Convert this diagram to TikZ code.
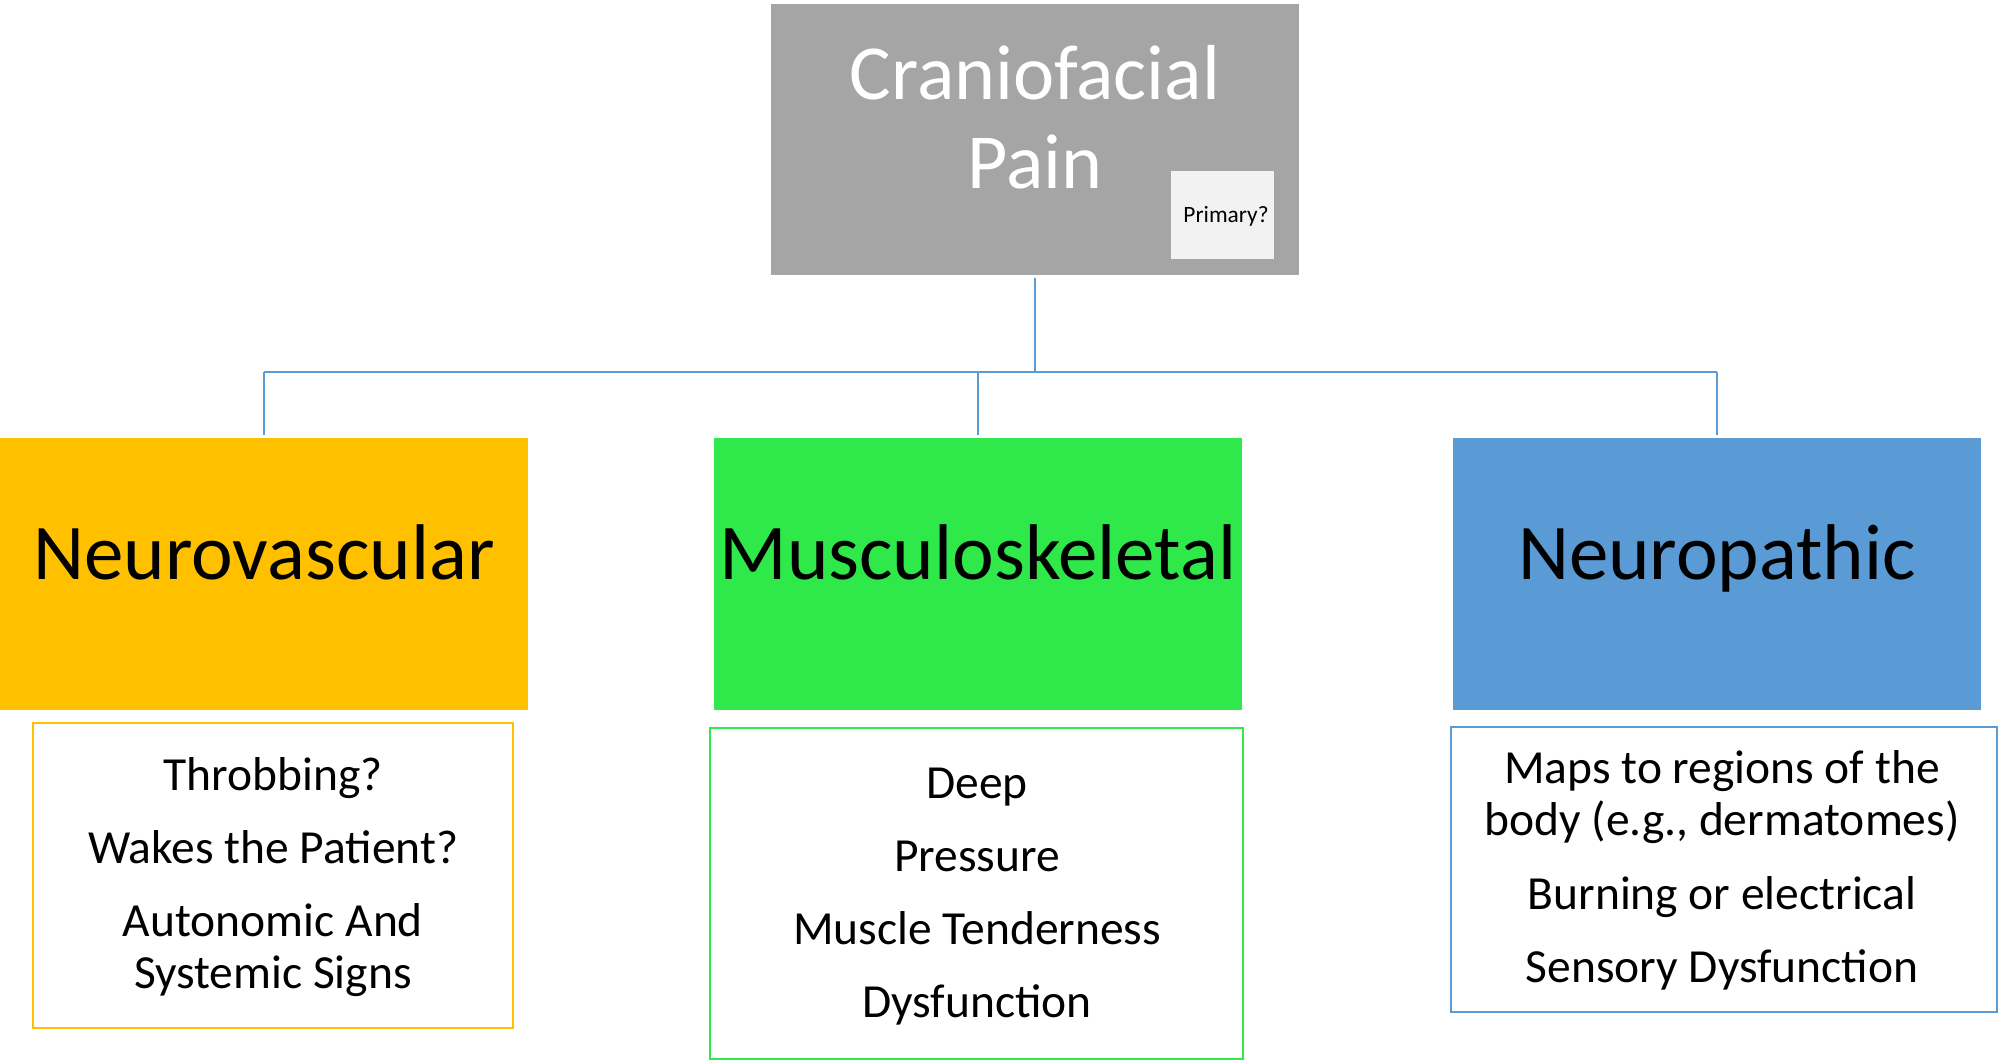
\documentclass[tikz,border=0pt]{standalone}
\usepackage{fontspec}
\setmainfont{Carlito}
\definecolor{topgray}{HTML}{A5A5A5}
\definecolor{primfill}{HTML}{F2F2F2}
\definecolor{nvyellow}{HTML}{FFC000}
\definecolor{msgreen}{HTML}{2FE84A}
\definecolor{npblue}{HTML}{5B9BD5}
\begin{document}
\begin{tikzpicture}[x=1pt,y=-1pt,
  boxbase/.style={rectangle,inner sep=0pt,outer sep=0pt},
  catbox/.style={boxbase,minimum width=528pt,minimum height=272pt},
  listbox/.style={boxbase,fill=white,line width=2.6pt},
  conn/.style={draw=npblue,line width=2.4pt},
  bigtxt/.style={anchor=base,inner sep=0pt,font=\fontsize{79}{87}\selectfont},
  listtxt/.style={anchor=base,inner sep=0pt,font=\fontsize{47.5}{52}\selectfont}]
\useasboundingbox (0,0) rectangle (1999,1062);
% top box
\node[boxbase,fill=topgray,minimum width=528pt,minimum height=271pt] (top) at (1035,139.5) {};
\node[bigtxt,text=white,font=\fontsize{78}{87}\selectfont] (t1) at (1035,100) {Craniofacial};
\node[bigtxt,text=white,font=\fontsize{78}{87}\selectfont] (t2) at (1035,188) {Pain};
\node[boxbase,fill=primfill,minimum width=103pt,minimum height=88pt] (prim) at (1222.5,215) {};
\node[anchor=base,inner sep=0pt,font=\fontsize{23.4}{28}\selectfont] (primt) at (1226,222) {Primary?};
% category boxes
\node[catbox,fill=nvyellow] (nv) at (264,574) {};
\node[catbox,fill=msgreen] (ms) at (978,574) {};
\node[catbox,fill=npblue] (np) at (1717,574) {};
\node[bigtxt] (nvt) at (264,579) {Neurovascular};
\node[bigtxt] (mst) at (978,579) {Musculoskeletal};
\node[bigtxt] (npt) at (1717,579) {Neuropathic};
% connectors
\coordinate (hub) at (1035,372);
\draw[conn,shorten <=3pt] (top.south) -- (hub);
\draw[conn] (nv.north |- hub) -- (np.north |- hub);
\draw[conn,shorten >=3pt] (nv.north |- hub) -- (nv.north);
\draw[conn,shorten >=3pt] (ms.north |- hub) -- (ms.north);
\draw[conn,shorten >=3pt] (np.north |- hub) -- (np.north);
% list boxes
\node[listbox,draw=nvyellow,minimum width=480pt,minimum height=305pt] (nvl) at (273,875.5) {};
\node[listbox,draw=msgreen,minimum width=533pt,minimum height=331pt] (msl) at (976.5,893.5) {};
\node[listbox,draw=npblue,minimum width=546pt,minimum height=285pt] (npl) at (1724,869.5) {};
% yellow list
\node[listtxt] (y1) at (273,790) {Throbbing?};
\node[listtxt] (y2) at (273,863) {Wakes the Patient?};
\node[listtxt] (y3) at (273,936) {Autonomic And};
\node[listtxt] (y4) at (273,988) {Systemic Signs};
% green list
\node[listtxt] (g1) at (977,798) {Deep};
\node[listtxt] (g2) at (977,871) {Pressure};
\node[listtxt] (g3) at (977,944) {Muscle Tenderness};
\node[listtxt] (g4) at (977,1017) {Dysfunction};
% blue list
\node[listtxt] (b1) at (1722,783) {Maps to regions of the};
\node[listtxt] (b2) at (1722,835) {body (e.g., dermatomes)};
\node[listtxt] (b3) at (1722,909) {Burning or electrical};
\node[listtxt] (b4) at (1722,982) {Sensory Dysfunction};
\end{tikzpicture}
\end{document}
